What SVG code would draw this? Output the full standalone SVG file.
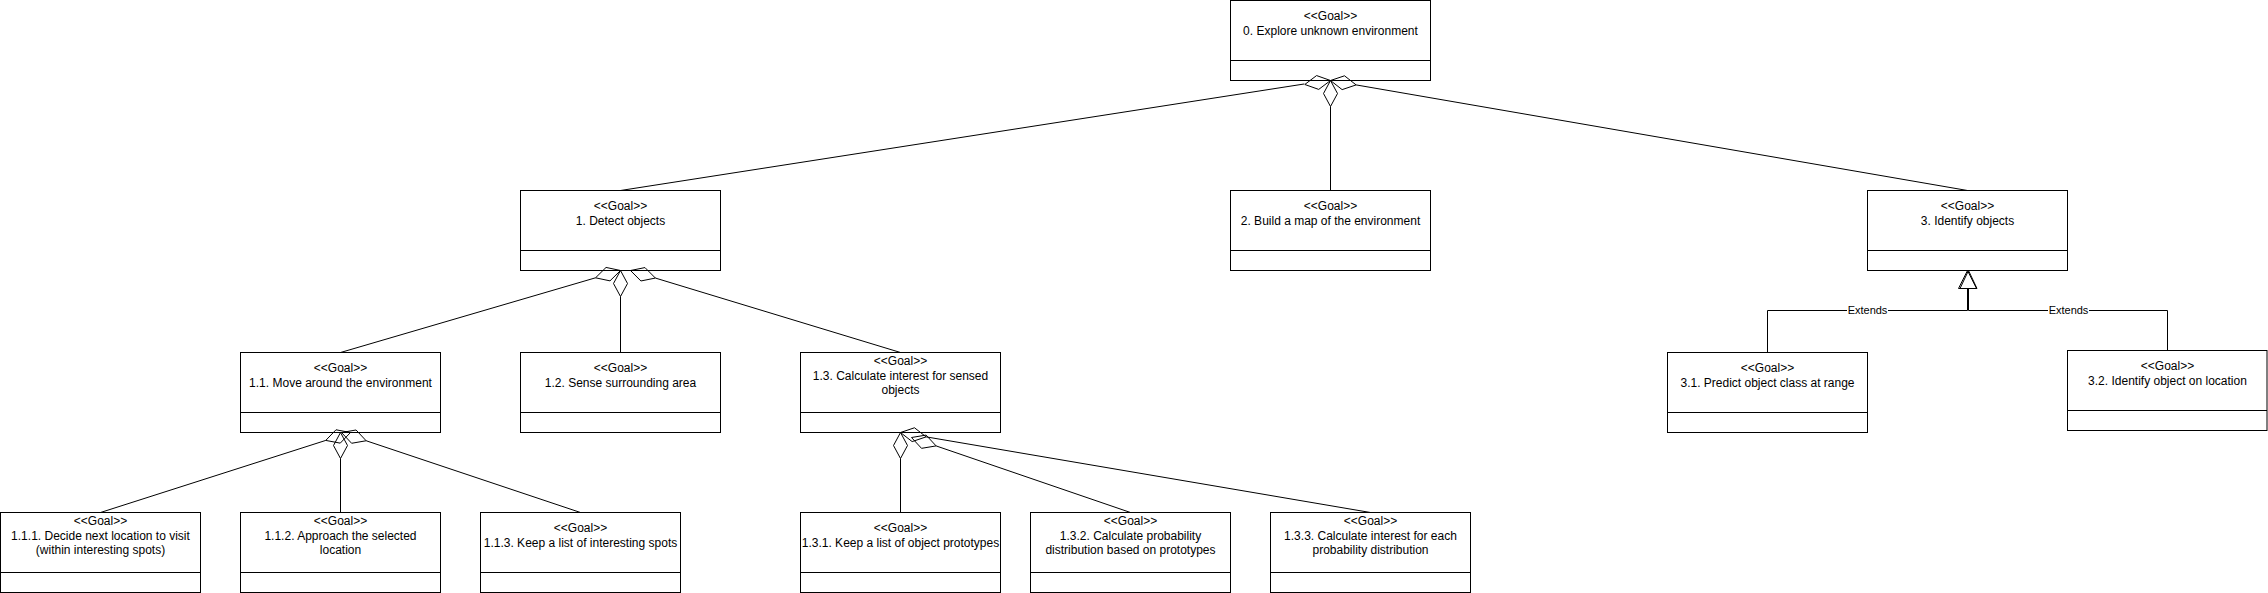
<svg xmlns="http://www.w3.org/2000/svg" width="2268" height="593" viewBox="0 0 2268 593">
<style>
.box{fill:#fff;stroke:#000;stroke-width:1}
.div{stroke:#000;stroke-width:1;fill:none}
.t{font-family:"Liberation Sans",Arial,Helvetica,sans-serif;font-size:12px;fill:#000;text-anchor:middle}
.ln{stroke:#000;stroke-width:1;fill:none}
.dm{stroke:#000;stroke-width:1;fill:none;stroke-linejoin:miter}
.lbl{font-family:"Liberation Sans",Arial,Helvetica,sans-serif;font-size:11px;fill:#000;text-anchor:middle}
</style>
<rect width="2268" height="593" fill="#fff"/>

<g id="n0"><rect class="box" x="1230.5" y="0.5" width="200" height="80"/><line class="div" x1="1230.5" y1="60.5" x2="1430.5" y2="60.5"/><text class="t" x="1330.5" y="20">&lt;&lt;Goal&gt;&gt;</text><text class="t" x="1330.5" y="34.5">0. Explore unknown environment</text></g>

<g id="n1"><rect class="box" x="520.5" y="190.5" width="200" height="80"/><line class="div" x1="520.5" y1="250.5" x2="720.5" y2="250.5"/><text class="t" x="620.5" y="210">&lt;&lt;Goal&gt;&gt;</text><text class="t" x="620.5" y="224.5">1. Detect objects</text></g>

<g id="n2"><rect class="box" x="1230.5" y="190.5" width="200" height="80"/><line class="div" x1="1230.5" y1="250.5" x2="1430.5" y2="250.5"/><text class="t" x="1330.5" y="210">&lt;&lt;Goal&gt;&gt;</text><text class="t" x="1330.5" y="224.5">2. Build a map of the environment</text></g>

<g id="n3"><rect class="box" x="1867.5" y="190.5" width="200" height="80"/><line class="div" x1="1867.5" y1="250.5" x2="2067.5" y2="250.5"/><text class="t" x="1967.5" y="210">&lt;&lt;Goal&gt;&gt;</text><text class="t" x="1967.5" y="224.5">3. Identify objects</text></g>

<g id="n11"><rect class="box" x="240.5" y="352.5" width="200" height="80"/><line class="div" x1="240.5" y1="412.5" x2="440.5" y2="412.5"/><text class="t" x="340.5" y="372">&lt;&lt;Goal&gt;&gt;</text><text class="t" x="340.5" y="386.5">1.1. Move around the environment</text></g>

<g id="n12"><rect class="box" x="520.5" y="352.5" width="200" height="80"/><line class="div" x1="520.5" y1="412.5" x2="720.5" y2="412.5"/><text class="t" x="620.5" y="372">&lt;&lt;Goal&gt;&gt;</text><text class="t" x="620.5" y="386.5">1.2. Sense surrounding area</text></g>

<g id="n13"><rect class="box" x="800.5" y="352.5" width="200" height="80"/><line class="div" x1="800.5" y1="412.5" x2="1000.5" y2="412.5"/><text class="t" x="900.5" y="365">&lt;&lt;Goal&gt;&gt;</text><text class="t" x="900.5" y="379.5">1.3. Calculate interest for sensed</text><text class="t" x="900.5" y="394">objects</text></g>

<g id="n31"><rect class="box" x="1667.5" y="352.5" width="200" height="80"/><line class="div" x1="1667.5" y1="412.5" x2="1867.5" y2="412.5"/><text class="t" x="1767.5" y="372">&lt;&lt;Goal&gt;&gt;</text><text class="t" x="1767.5" y="386.5">3.1. Predict object class at range</text></g>

<g id="n32"><rect class="box" x="2067.5" y="350.5" width="199.5" height="80"/><line class="div" x1="2067.5" y1="410.5" x2="2267" y2="410.5"/><text class="t" x="2167.5" y="370">&lt;&lt;Goal&gt;&gt;</text><text class="t" x="2167.5" y="384.5">3.2. Identify object on location</text></g>

<g id="n111"><rect class="box" x="0.5" y="512.5" width="200" height="80"/><line class="div" x1="0.5" y1="572.5" x2="200.5" y2="572.5"/><text class="t" x="100.5" y="525">&lt;&lt;Goal&gt;&gt;</text><text class="t" x="100.5" y="539.5">1.1.1. Decide next location to visit</text><text class="t" x="100.5" y="554">(within interesting spots)</text></g>

<g id="n112"><rect class="box" x="240.5" y="512.5" width="200" height="80"/><line class="div" x1="240.5" y1="572.5" x2="440.5" y2="572.5"/><text class="t" x="340.5" y="525">&lt;&lt;Goal&gt;&gt;</text><text class="t" x="340.5" y="539.5">1.1.2. Approach the selected</text><text class="t" x="340.5" y="554">location</text></g>

<g id="n113"><rect class="box" x="480.5" y="512.5" width="200" height="80"/><line class="div" x1="480.5" y1="572.5" x2="680.5" y2="572.5"/><text class="t" x="580.5" y="532">&lt;&lt;Goal&gt;&gt;</text><text class="t" x="580.5" y="546.5">1.1.3. Keep a list of interesting spots</text></g>

<g id="n131"><rect class="box" x="800.5" y="512.5" width="200" height="80"/><line class="div" x1="800.5" y1="572.5" x2="1000.5" y2="572.5"/><text class="t" x="900.5" y="532">&lt;&lt;Goal&gt;&gt;</text><text class="t" x="900.5" y="546.5">1.3.1. Keep a list of object prototypes</text></g>

<g id="n132"><rect class="box" x="1030.5" y="512.5" width="200" height="80"/><line class="div" x1="1030.5" y1="572.5" x2="1230.5" y2="572.5"/><text class="t" x="1130.5" y="525">&lt;&lt;Goal&gt;&gt;</text><text class="t" x="1130.5" y="539.5">1.3.2. Calculate probability</text><text class="t" x="1130.5" y="554">distribution based on prototypes</text></g>

<g id="n133"><rect class="box" x="1270.5" y="512.5" width="200" height="80"/><line class="div" x1="1270.5" y1="572.5" x2="1470.5" y2="572.5"/><text class="t" x="1370.5" y="525">&lt;&lt;Goal&gt;&gt;</text><text class="t" x="1370.5" y="539.5">1.3.3. Calculate interest for each</text><text class="t" x="1370.5" y="554">probability distribution</text></g>

<g id="connectors">
<!-- 0 -> 1 -->
<line class="ln" x1="1304.31" y1="83.98" x2="620.5" y2="190.5"/>
<polygon class="dm" points="1330.5,80.5 1316.58,75.57 1304.81,84.48 1318.72,89.41"/>
<!-- 0 -> 2 -->
<line class="ln" x1="1330.5" y1="106.5" x2="1330.5" y2="190.5"/>
<polygon class="dm" points="1330.5,80.5 1323.5,93.5 1330.5,106.5 1337.5,93.5"/>
<!-- 0 -> 3 -->
<line class="ln" x1="1356.12" y1="84.92" x2="1967.5" y2="190.5"/>
<polygon class="dm" points="1330.5,80.5 1344.5,75.81 1356.12,84.92 1342.12,89.61"/>
<!-- 1 -> 1.1 -->
<line class="ln" x1="595.55" y1="277.81" x2="340.5" y2="352.5"/>
<polygon class="dm" points="620.5,270.5 606.05,267.43 595.55,277.81 609.99,280.87"/>
<!-- 1 -> 1.2 -->
<line class="ln" x1="620.5" y1="296.5" x2="620.5" y2="352.5"/>
<polygon class="dm" points="620.5,270.5 613.5,283.5 620.5,296.5 627.5,283.5"/>
<!-- 1 -> 1.3 -->
<line class="ln" x1="655.38" y1="278.06" x2="900.5" y2="352.5"/>
<polygon class="dm" points="630.5,270.5 644.97,267.58 655.38,278.06 640.91,280.98"/>
<!-- 1.1 -> 1.1.1 -->
<line class="ln" x1="325.74" y1="440.42" x2="100.5" y2="512.5"/>
<polygon class="dm" points="350.5,432.5 335.99,429.79 325.74,440.42 340.25,443.13"/>
<!-- 1.1 -> 1.1.2 -->
<line class="ln" x1="340.5" y1="458.5" x2="340.5" y2="512.5"/>
<polygon class="dm" points="340.5,432.5 333.5,445.5 340.5,458.5 347.5,445.5"/>
<!-- 1.1 -> 1.1.3 -->
<line class="ln" x1="366.16" y1="440.75" x2="580.5" y2="512.5"/>
<polygon class="dm" points="341.5,432.5 356.05,429.99 366.16,440.75 351.61,443.27"/>
<!-- 1.3 -> 1.3.1 -->
<line class="ln" x1="900.5" y1="458.5" x2="900.5" y2="512.5"/>
<polygon class="dm" points="900.5,432.5 893.5,445.5 900.5,458.5 907.5,445.5"/>
<!-- 1.3 -> 1.3.3 -->
<line class="ln" x1="926.13" y1="436.86" x2="1370.5" y2="512.5"/>
<polygon class="dm" points="900.5,432.5 914.49,427.78 926.13,436.86 912.15,441.58"/>
<!-- 1.3 -> 1.3.2 -->
<line class="ln" x1="936.1" y1="445.92" x2="1130.5" y2="512.5"/>
<polygon class="dm" points="911.5,437.5 926.07,435.09 936.1,445.92 921.53,448.33"/>
<!-- 3.1 -> 3 (extends) -->
<polyline class="ln" points="1767.5,352.5 1767.5,310.5 1967.5,310.5 1967.5,288.5"/>
<polygon class="dm" points="1967.5,270.5 1958.5,288.5 1976.5,288.5"/>
<!-- 3.2 -> 3 (extends) -->
<polyline class="ln" points="2167.5,350.5 2167.5,310.5 1968.5,310.5 1968.5,288.5"/>
<polygon class="dm" points="1968.5,270.5 1960,288.5 1977,288.5"/>
<rect x="1847" y="303" width="41" height="14" fill="#fff"/>
<text class="lbl" x="1867.5" y="314">Extends</text>
<rect x="2048" y="303" width="41" height="14" fill="#fff"/>
<text class="lbl" x="2068.5" y="314">Extends</text>
</g>
</svg>
